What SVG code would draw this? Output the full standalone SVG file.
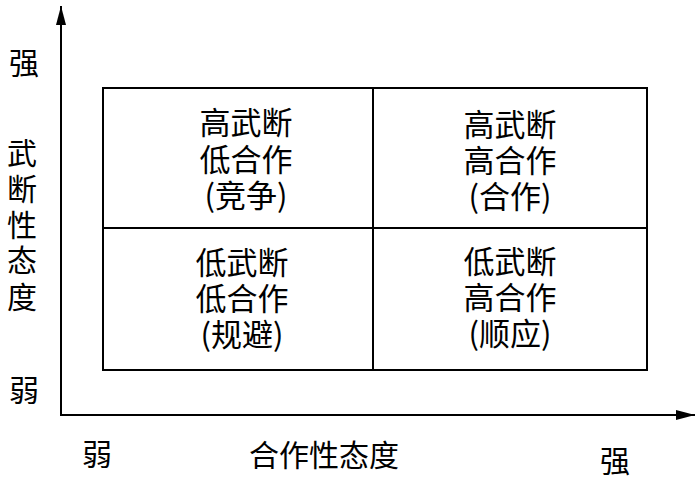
<svg xmlns="http://www.w3.org/2000/svg" width="698" height="487" viewBox="0 0 698 487">
  <style>
    text { font-family: "Noto Sans CJK SC", "Noto Sans CJK JP", sans-serif; fill: #000; }
    .q { font-size: 31px; text-anchor: middle; }
    .lbl { font-size: 30px; text-anchor: middle; }
    .box { fill: none; stroke: #000; stroke-width: 2; }
    .axis { stroke: #000; stroke-width: 2; fill: none; }
  </style>
  <defs>
    <marker id="arrow" markerUnits="userSpaceOnUse" markerWidth="20" markerHeight="12" refX="19" refY="5" orient="auto">
      <path d="M0,0 L19,5 L0,10 Z" fill="#000"/>
    </marker>
  </defs>
  <rect width="698" height="487" fill="#fff"/>

  <g id="connectors">
    <line class="axis" x1="61" y1="415" x2="61" y2="6" marker-end="url(#arrow)"/>
    <line class="axis" x1="60" y1="415" x2="695" y2="415" marker-end="url(#arrow)"/>
  </g>

  <g id="grid">
    <rect class="box" x="103" y="88" width="544" height="282"/>
    <line class="box" x1="373" y1="88" x2="373" y2="370"/>
    <line class="box" x1="103" y1="228" x2="647" y2="228"/>
  </g>

  <g id="q-top-left">
    <text class="q" x="246" y="134"><tspan x="246" y="134">高武断</tspan><tspan x="246" y="171">低合作</tspan><tspan x="246" y="207">(竞争)</tspan></text>
  </g>
  <g id="q-top-right">
    <text class="q" x="510" y="136"><tspan x="510" y="136">高武断</tspan><tspan x="510" y="172">高合作</tspan><tspan x="510" y="208">(合作)</tspan></text>
  </g>
  <g id="q-bottom-left">
    <text class="q" x="242" y="274"><tspan x="242" y="274">低武断</tspan><tspan x="242" y="310">低合作</tspan><tspan x="242" y="346">(规避)</tspan></text>
  </g>
  <g id="q-bottom-right">
    <text class="q" x="510" y="273"><tspan x="510" y="273">低武断</tspan><tspan x="510" y="309">高合作</tspan><tspan x="510" y="345">(顺应)</tspan></text>
  </g>

  <g id="y-labels">
    <text class="lbl" x="24" y="74">强</text>
    <text class="lbl" x="22" y="164"><tspan x="22" y="164">武</tspan><tspan x="22" y="200">断</tspan><tspan x="22" y="236">性</tspan><tspan x="22" y="271">态</tspan><tspan x="22" y="308">度</tspan></text>
    <text class="lbl" x="24" y="401">弱</text>
  </g>
  <g id="x-labels">
    <text class="lbl" x="97" y="465">弱</text>
    <text class="lbl" x="324" y="466">合作性态度</text>
    <text class="lbl" x="615" y="472">强</text>
  </g>
</svg>
